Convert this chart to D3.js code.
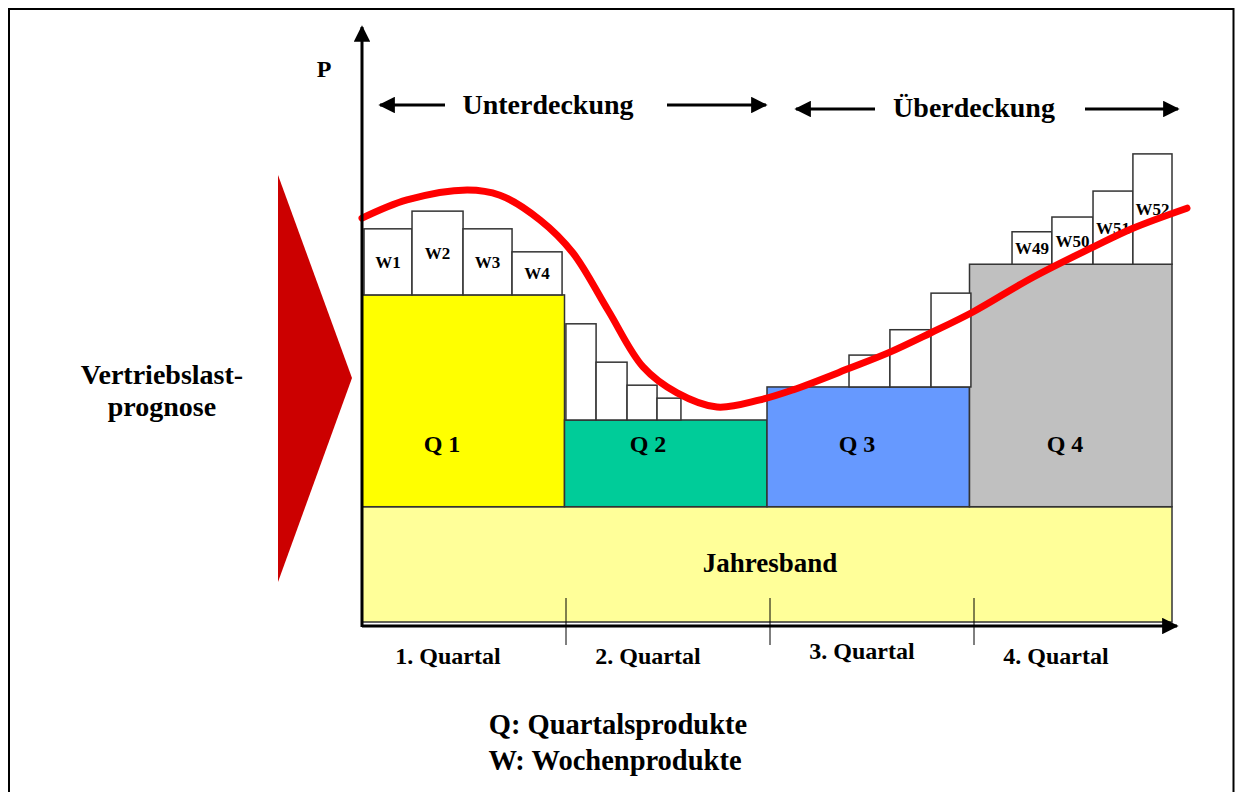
<!DOCTYPE html>
<html>
<head>
<meta charset="utf-8">
<script src="https://cdn.jsdelivr.net/npm/d3@7"></script>
<style>
  html, body { margin: 0; padding: 0; background: #fff; }
  svg { display: block; }
  text { font-family: "Liberation Serif", "Times New Roman", serif; font-weight: bold; fill: #000; }
</style>
</head>
<body>
<svg id="chart" width="1235" height="792"></svg>
<script>
// ---------- data ----------
const quarterNames = ["Q 1", "Q 2", "Q 3", "Q 4"];
const quarterLevels = [55.1, 33.9, 39.5, 60.3];
const quarterColors = ["#FFFF00", "#00CC99", "#6699FF", "#C0C0C0"];
const yearBandLevel = 19.2;
const quarterAxisLabels = ["1. Quartal", "2. Quartal", "3. Quartal", "4. Quartal"];

const weekLabels  = ["W1", "W2", "W3", "W4", "", "", "", "", "", "", "", "W49", "W50", "W51", "W52"];
const weekQuarter = [0, 0, 0, 0, 1, 1, 1, 1, 2, 2, 2, 3, 3, 3, 3];
const weekStart   = [0.01, 0.247, 0.499, 0.741, 1.007, 1.156, 1.309, 1.457, 2.405, 2.607, 2.810, 3.210, 3.407, 3.610, 3.807];
const weekEnd     = [0.247, 0.499, 0.741, 0.988, 1.156, 1.309, 1.457, 1.575, 2.607, 2.810, 3.007, 3.407, 3.610, 3.807, 4.0];
const weekValues  = [66.3, 69.3, 66.3, 62.4, 50.2, 43.7, 39.8, 37.6, 44.9, 49.2, 55.4, 65.8, 68.3, 72.7, 79.0];

const forecastX = [0, 0.222, 0.519, 0.681, 0.879, 1.042, 1.215, 1.388, 1.556, 1.753, 1.965, 2.128, 2.410, 2.607, 2.805, 3.017, 3.314, 3.610, 3.807, 4.074];
const forecastY = [68.1, 71.2, 72.9, 72.0, 67.8, 62.2, 52.5, 42.9, 38.5, 36.1, 37.3, 39.0, 42.7, 45.4, 48.6, 52.2, 58.1, 63.2, 66.4, 69.8];

// ---------- setup ----------
const svg = d3.select("#chart");
const x = d3.scaleLinear().domain([0, 4]).range([362, 1172]);
const y = d3.scaleLinear().domain([0, 100]).range([620, 30]);

// frame
svg.append("path")
  .attr("d", "M9,792 L9,9 L1233.5,9 L1233.5,792")
  .attr("fill", "none").attr("stroke", "#000").attr("stroke-width", 2);

// arrow marker
const defs = svg.append("defs");
defs.append("marker").attr("id", "ah")
  .attr("viewBox", "0 0 10 10").attr("refX", 9).attr("refY", 5)
  .attr("markerWidth", 5.5).attr("markerHeight", 5.5).attr("markerUnits", "strokeWidth")
  .attr("orient", "auto-start-reverse")
  .append("path").attr("d", "M0,0 L10,5 L0,10 Z").attr("fill", "#000");

// red triangle
svg.append("path")
  .attr("d", d3.line()([[278, 175], [352, 378], [278, 582]]) + "Z")
  .attr("fill", "#CC0000");

svg.append("text").attr("x", 162).attr("y", 384).attr("text-anchor", "middle")
  .attr("font-size", 28).text("Vertriebslast-");
svg.append("text").attr("x", 162).attr("y", 416).attr("text-anchor", "middle")
  .attr("font-size", 28).text("prognose");

// year band
svg.append("rect")
  .attr("x", x(0)).attr("y", y(yearBandLevel))
  .attr("width", x(4) - x(0)).attr("height", y(0) - y(yearBandLevel) + 2)
  .attr("fill", "#FFFF99").attr("stroke", "#333").attr("stroke-width", 1.5);
svg.append("text").attr("x", x(2) + 3).attr("y", 572).attr("text-anchor", "middle")
  .attr("font-size", 27).text("Jahresband");

// quarter boxes
svg.selectAll("rect.q").data(quarterLevels).join("rect").attr("class", "q")
  .attr("x", (d, i) => x(i)).attr("y", d => y(d))
  .attr("width", (d, i) => x(i + 1) - x(i))
  .attr("height", d => y(yearBandLevel) - y(d))
  .attr("fill", (d, i) => quarterColors[i])
  .attr("stroke", "#333").attr("stroke-width", 1.5);
const qLabelX = [442, 648, 857, 1065];
svg.selectAll("text.q").data(quarterNames).join("text").attr("class", "q")
  .attr("x", (d, i) => qLabelX[i]).attr("y", 452)
  .attr("text-anchor", "middle").attr("font-size", 24).text(d => d);

// week boxes
const weeks = weekValues.map((v, i) => ({ v, i, q: weekQuarter[i], s: weekStart[i], e: weekEnd[i], label: weekLabels[i] }));
svg.selectAll("rect.w").data(weeks).join("rect").attr("class", "w")
  .attr("x", d => x(d.s)).attr("y", d => y(d.v))
  .attr("width", d => x(d.e) - x(d.s))
  .attr("height", d => y(quarterLevels[d.q]) - y(d.v))
  .attr("fill", "#fff").attr("stroke", "#333").attr("stroke-width", 1.5);
svg.selectAll("text.w").data(weeks.filter(d => d.label)).join("text").attr("class", "w")
  .attr("x", d => (x(d.s) + x(d.e)) / 2)
  .attr("y", d => (y(d.v) + y(quarterLevels[d.q])) / 2 + 6)
  .attr("text-anchor", "middle").attr("font-size", 17).text(d => d.label);

// forecast curve
svg.append("path")
  .datum(forecastX.map((fx, i) => [fx, forecastY[i]]))
  .attr("d", d3.line().x(d => x(d[0])).y(d => y(d[1])).curve(d3.curveCatmullRom.alpha(0.5)))
  .attr("fill", "none").attr("stroke", "#FF0000").attr("stroke-width", 7)
  .attr("stroke-linecap", "round");

// axes
svg.append("line").attr("x1", x(0)).attr("y1", 626).attr("x2", 1177).attr("y2", 626)
  .attr("stroke", "#000").attr("stroke-width", 3).attr("marker-end", "url(#ah)");
svg.append("line").attr("x1", x(0)).attr("y1", 627).attr("x2", x(0)).attr("y2", 27)
  .attr("stroke", "#000").attr("stroke-width", 3).attr("marker-end", "url(#ah)");
svg.append("text").attr("x", 324).attr("y", 77).attr("text-anchor", "middle")
  .attr("font-size", 24).text("P");

// quarter ticks and labels
svg.selectAll("line.tick").data([1, 2, 3]).join("line").attr("class", "tick")
  .attr("x1", d => x(d) + d * 1.5).attr("x2", d => x(d) + d * 1.5)
  .attr("y1", 598).attr("y2", 645)
  .attr("stroke", "#000").attr("stroke-width", 1);
svg.selectAll("text.qa").data(quarterAxisLabels).join("text").attr("class", "qa")
  .attr("x", (d, i) => [448, 648, 862, 1056][i])
  .attr("y", (d, i) => i === 2 ? 659 : 664)
  .attr("text-anchor", "middle").attr("font-size", 24).text(d => d);

// coverage arrows
function hArrow(x1, x2, yy) {
  svg.append("line").attr("x1", x1).attr("x2", x2).attr("y1", yy).attr("y2", yy)
    .attr("stroke", "#000").attr("stroke-width", 3).attr("marker-end", "url(#ah)");
}
hArrow(445, 380, 105);
hArrow(667, 766, 105);
svg.append("text").attr("x", 548).attr("y", 114).attr("text-anchor", "middle")
  .attr("font-size", 28).text("Unterdeckung");
hArrow(875, 796, 109);
hArrow(1085, 1178, 109);
svg.append("text").attr("x", 974).attr("y", 117).attr("text-anchor", "middle")
  .attr("font-size", 28).text("Überdeckung");

// legend
svg.append("text").attr("x", 618).attr("y", 734).attr("text-anchor", "middle")
  .attr("font-size", 28.5).text("Q: Quartalsprodukte");
svg.append("text").attr("x", 615).attr("y", 770).attr("text-anchor", "middle")
  .attr("font-size", 28.5).text("W: Wochenprodukte");
</script>
</body>
</html>
